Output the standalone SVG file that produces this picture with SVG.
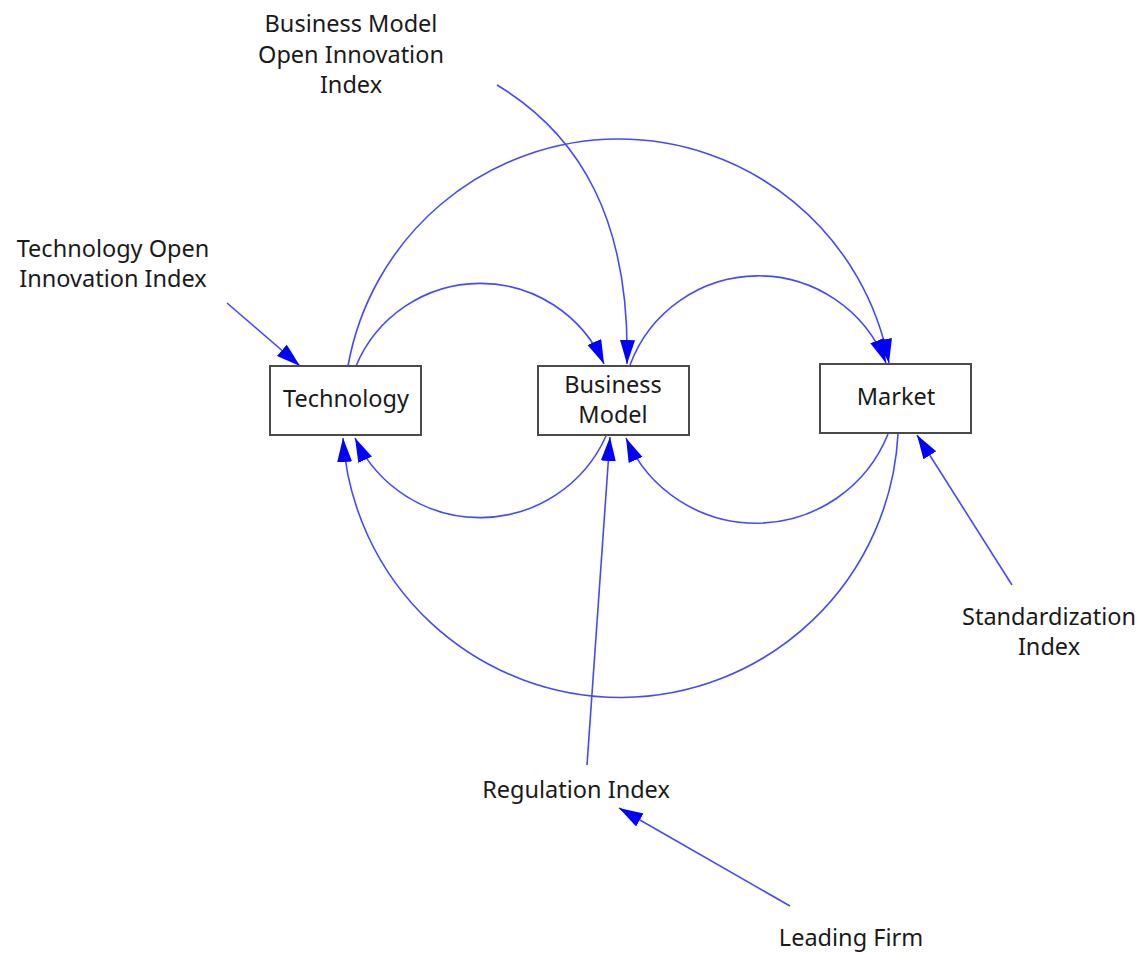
<svg xmlns="http://www.w3.org/2000/svg" width="1144" height="954" viewBox="0 0 1144 954">
<style>
.box{fill:#fff;stroke:#4a4a4a;stroke-width:2}
.lbl{font-family:"Noto Sans","Open Sans","DejaVu Sans",sans-serif;font-size:23.5px;fill:#1a1a1a;text-anchor:middle}
.c{fill:none;stroke:#4747ff;stroke-width:1.6;marker-end:url(#ah)}
</style>
<defs>
<marker id="ah" markerUnits="userSpaceOnUse" markerWidth="26" markerHeight="17" refX="24" refY="7.5" orient="auto">
<path d="M0,0 L24,7.5 L0,15 z" fill="#0000ff"/>
</marker>
</defs>
<rect width="1144" height="954" fill="#fff"/>
<g id="connectors">
<path class="c" d="M348,366 A275,275 0 0 1 889,363"/>
<path class="c" d="M356,366 A135,135 0 0 1 604,364"/>
<path class="c" d="M630,365 A137,137 0 0 1 886,363"/>
<path class="c" d="M606,436 A138,138 0 0 1 355,438"/>
<path class="c" d="M888,434 A142,142 0 0 1 626,438"/>
<path class="c" d="M898,434 A278,278 0 0 1 343,438"/>
<path class="c" d="M497,85 C580,135 630,220 627,364"/>
<path class="c" d="M227,303 L300,366"/>
<path class="c" d="M587,765 L610,437"/>
<path class="c" d="M790,906 L619,808"/>
<path class="c" d="M1012,585 L917,435"/>
</g>
<g id="node-technology">
<rect class="box" x="270" y="366" width="151" height="69"/>
<text class="lbl" x="346" y="407">Technology</text>
</g>
<g id="node-business-model">
<rect class="box" x="538" y="366" width="151" height="69"/>
<text class="lbl" x="613" y="393">Business</text>
<text class="lbl" x="613" y="423">Model</text>
</g>
<g id="node-market">
<rect class="box" x="820" y="364" width="151" height="69"/>
<text class="lbl" x="896" y="405">Market</text>
</g>
<g id="node-bmoi">
<text class="lbl" x="351" y="32">Business Model</text>
<text class="lbl" x="351" y="63">Open Innovation</text>
<text class="lbl" x="351" y="93">Index</text>
</g>
<g id="node-toi">
<text class="lbl" x="113" y="257">Technology Open</text>
<text class="lbl" x="113" y="287">Innovation Index</text>
</g>
<g id="node-regulation">
<text class="lbl" x="576" y="798">Regulation Index</text>
</g>
<g id="node-leading-firm">
<text class="lbl" x="851" y="946">Leading Firm</text>
</g>
<g id="node-standardization">
<text class="lbl" x="1049" y="625">Standardization</text>
<text class="lbl" x="1049" y="655">Index</text>
</g>
</svg>
